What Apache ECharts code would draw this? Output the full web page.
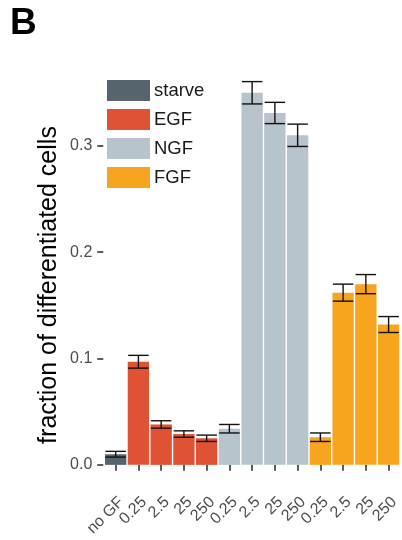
<!DOCTYPE html>
<html>
<head>
<meta charset="utf-8">
<script src="https://cdn.jsdelivr.net/npm/echarts@6/dist/echarts.min.js"></script>
<style>html,body{margin:0;padding:0;background:#fff}#c{width:402px;height:540px}</style>
</head>
<body>
<div id="c"></div>
<script>
const groups = ['starve', 'EGF', 'NGF', 'FGF'];
const doseLabels = ['no GF', '0.25', '2.5', '25', '250', '0.25', '2.5', '25', '250', '0.25', '2.5', '25', '250'];
const groupOf = ['starve', 'EGF', 'EGF', 'EGF', 'EGF', 'NGF', 'NGF', 'NGF', 'NGF', 'FGF', 'FGF', 'FGF', 'FGF'];
const means = [0.010, 0.097, 0.038, 0.029, 0.025, 0.034, 0.350, 0.331, 0.310, 0.026, 0.162, 0.170, 0.132];
const errs = [0.0027, 0.006, 0.0035, 0.003, 0.003, 0.004, 0.0105, 0.010, 0.0105, 0.004, 0.008, 0.009, 0.0075];
const yTicks = [0, 0.1, 0.2, 0.3];

const groupColors = { starve: '#56646e', EGF: '#e05234', NGF: '#b7c4cb', FGF: '#f7a41f' };
const FONT = "'Liberation Sans', Arial, Helvetica, sans-serif";

const chart = echarts.init(document.getElementById('c'), null, { renderer: 'canvas' });

const barSeries = groups.map(g => ({
  name: g,
  type: 'bar',
  stack: 'all',
  barCategoryGap: '6%',
  itemStyle: { color: groupColors[g] },
  data: means.map((v, i) => groupOf[i] === g ? v : null),
  z: 2
}));

const errSeries = {
  type: 'custom',
  name: 'err',
  z: 5,
  renderItem: function (params, api) {
    const x = api.value(0);
    const m = api.value(1);
    const e = api.value(2);
    const top = api.coord([x, m + e]);
    const bot = api.coord([x, m - e]);
    const w = api.size([1, 0])[0] * 0.9;
    const style = { stroke: '#111', lineWidth: 1.4 };
    return {
      type: 'group',
      children: [
        { type: 'line', shape: { x1: top[0], y1: top[1], x2: bot[0], y2: bot[1] }, style: style },
        { type: 'line', shape: { x1: top[0] - w / 2, y1: top[1], x2: top[0] + w / 2, y2: top[1] }, style: style },
        { type: 'line', shape: { x1: bot[0] - w / 2, y1: bot[1], x2: bot[0] + w / 2, y2: bot[1] }, style: style }
      ]
    };
  },
  data: means.map((v, i) => [i, v, errs[i]])
};

chart.setOption({
  animation: false,
  backgroundColor: '#fff',
  textStyle: { fontFamily: FONT },
  grid: { left: 104.3, right: 1.3, top: 63, bottom: 56, containLabel: false },
  legend: {
    data: groups,
    orient: 'vertical',
    left: 107,
    top: 80,
    padding: 0,
    itemWidth: 43,
    itemHeight: 21,
    itemGap: 8,
    icon: 'rect',
    textStyle: { fontSize: 18.5, color: '#1a1a1a', fontFamily: FONT, padding: [0, 0, 4, -1] }
  },
  xAxis: {
    type: 'category',
    data: doseLabels,
    offset: 1,
    axisLine: { show: false },
    axisTick: { show: true, alignWithLabel: true, length: 6, lineStyle: { color: '#333', width: 1.6 } },
    axisLabel: { rotate: 45, fontSize: 16, color: '#4d4d4d', margin: 9, interval: 0, fontFamily: FONT,
      verticalAlign: 'top' },
    splitLine: { show: false }
  },
  yAxis: {
    type: 'value',
    min: -0.018,
    max: 0.378,
    offset: 1,
    axisLine: { show: false },
    axisTick: { show: true, length: 6, customValues: yTicks, lineStyle: { color: '#333', width: 1.6 } },
    axisLabel: { customValues: yTicks, fontSize: 16, color: '#4d4d4d', margin: 11, fontFamily: FONT,
      formatter: v => v.toFixed(1) },
    splitLine: { show: false }
  },
  graphic: [
    { type: 'text', left: 10, top: 5, style: { text: 'B', font: 'bold 37px ' + FONT, fill: '#000' } },
    { type: 'text', x: 49, y: 285, rotation: Math.PI / 2,
      style: { text: 'fraction of differentiated cells', font: '25px ' + FONT, fill: '#000',
        textAlign: 'center', textVerticalAlign: 'middle' } }
  ],
  series: barSeries.concat([errSeries])
});
</script>
</body>
</html>
